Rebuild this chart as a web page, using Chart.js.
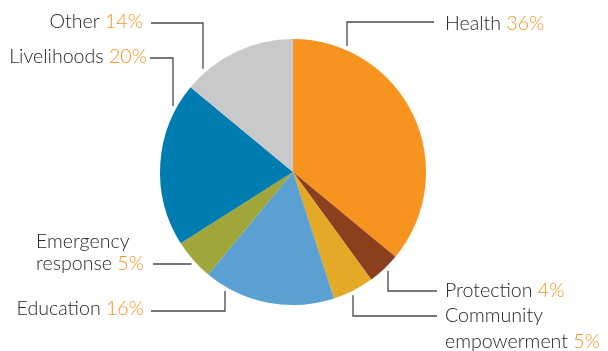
<!DOCTYPE html>
<html>
<head>
<meta charset="utf-8">
<script src="https://cdn.jsdelivr.net/npm/chart.js@4"></script>
<style>
  html, body { margin: 0; padding: 0; background: #fff; }
  #wrap { width: 608px; height: 351px; }
</style>
</head>
<body>
<div id="wrap"><canvas id="myChart" width="608" height="351"></canvas></div>
<script>
// slices, clockwise from 12 o'clock
let labels = ['Health', 'Protection', 'Community empowerment', 'Education', 'Emergency response', 'Livelihoods', 'Other']
let shares = [36, 4, 5, 16, 5, 20, 14]
let colors = ['#F7931F', '#8C3F1E', '#E5A928', '#5AA0D3', '#A1A63A', '#007DB0', '#C8C9CB']

// label text lines (percent goes after the last one)
let labelLines = [
  ['Health'],
  ['Protection'],
  ['Community', 'empowerment'],
  ['Education'],
  ['Emergency', 'response'],
  ['Livelihoods'],
  ['Other'],
]

// leader layout: 'v' = vertical out of the pie then horizontal, 'h' = straight horizontal
// x / y = elbow, end = where the horizontal part stops,
// tx = text edge, ty = first baseline, lh = line spacing, align = text side
let leaders = [
  { kind: 'v', x: 347, y: 22, end: 434, tx: 445, ty: 30, lh: 0, align: 'left' },
  { kind: 'v', x: 388, y: 291, end: 437, tx: 445, ty: 297, lh: 0, align: 'left' },
  { kind: 'v', x: 353, y: 316, end: 437, tx: 445, ty: 322, lh: 26, align: 'left' },
  { kind: 'v', x: 225, y: 311, end: 151, tx: 144, ty: 315, lh: 0, align: 'right' },
  { kind: 'h', y: 264, end: 153, tx: 144, ty: 248, lh: 22, align: 'right' },
  { kind: 'v', x: 173, y: 58, end: 150, tx: 147, ty: 63, lh: 0, align: 'right' },
  { kind: 'v', x: 203, y: 23, end: 151, tx: 143, ty: 28, lh: 0, align: 'right' },
]

const FONT = '300 19.6px Lato'

const leaderPlugin = {
  id: 'leaders',
  afterDatasetsDraw(chart) {
    const ctx = chart.ctx
    const arc = chart.getDatasetMeta(0).data[0]
    const cx = arc.x
    const cy = arc.y
    const r = arc.outerRadius + 4

    ctx.save()
    ctx.strokeStyle = '#4a4a4a'
    ctx.lineWidth = 1.3
    leaders.forEach((l, i) => {
      ctx.beginPath()
      if (l.kind === 'v') {
        // start on the ring just outside the slice, same x as the elbow
        const dx = l.x - cx
        const dy = Math.sqrt(r * r - dx * dx)
        const sy = l.y < cy ? cy - dy : cy + dy
        ctx.moveTo(l.x, sy)
        ctx.lineTo(l.x, l.y)
        ctx.lineTo(l.end, l.y)
      } else {
        const dy = l.y - cy
        const dx = Math.sqrt(r * r - dy * dy)
        const sx = l.end < cx ? cx - dx : cx + dx
        ctx.moveTo(sx, l.y)
        ctx.lineTo(l.end, l.y)
      }
      ctx.stroke()

      // text block: name in dark grey, percent in orange after the last line
      ctx.font = FONT
      ctx.textBaseline = 'alphabetic'
      ctx.textAlign = 'left'
      const lines = labelLines[i]
      const pct = ' ' + shares[i] + '%'
      const n = lines.length
      let x0 = l.tx
      if (l.align === 'right') x0 = l.tx - ctx.measureText(lines[n - 1] + pct).width
      lines.forEach((t, k) => {
        const y = l.ty + k * l.lh
        ctx.fillStyle = '#262626'
        ctx.fillText(t, x0, y)
        if (k === n - 1) {
          ctx.fillStyle = '#F7931F'
          ctx.fillText(pct, x0 + ctx.measureText(t).width, y)
        }
      })
    })
    ctx.restore()
  },
}

const config = {
  type: 'pie',
  data: {
    labels: labels,
    datasets: [
      {
        data: shares,
        backgroundColor: colors,
        borderWidth: 0,
      },
    ],
  },
  options: {
    responsive: false,
    animation: false,
    layout: {
      padding: { left: 160, right: 182, top: 39, bottom: 46 },
    },
    plugins: {
      legend: { display: false },
      tooltip: { enabled: false },
    },
  },
  plugins: [leaderPlugin],
}

var myChart = new Chart(document.getElementById('myChart'), config)
</script>
</body>
</html>
